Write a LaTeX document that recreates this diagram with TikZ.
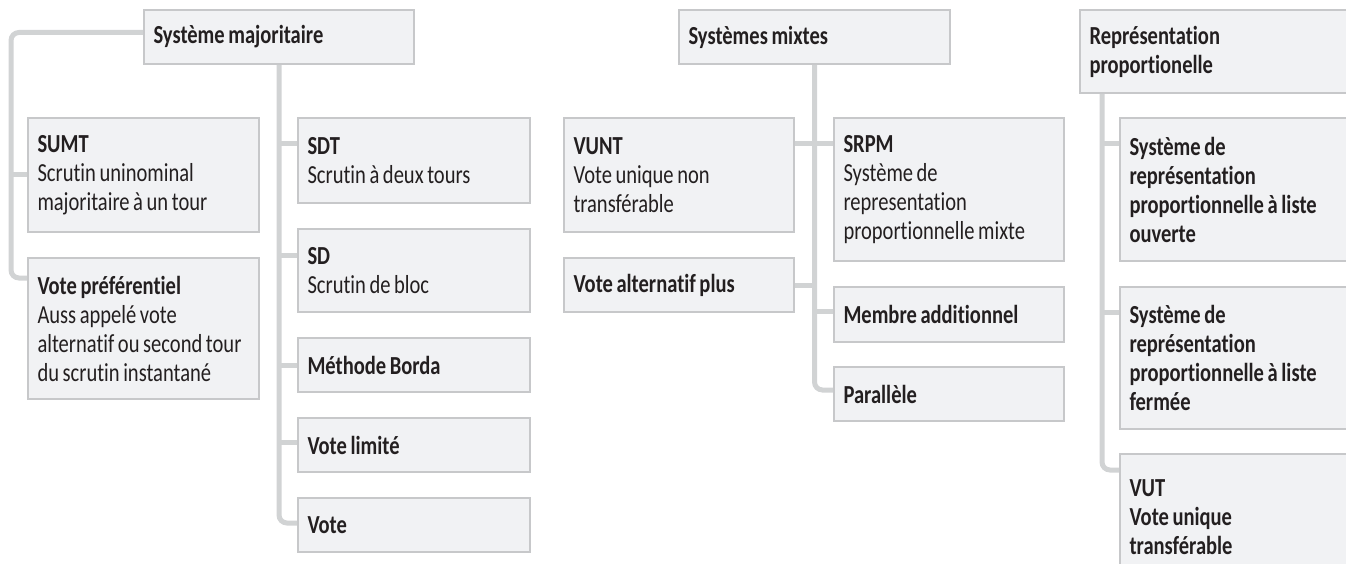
\documentclass[tikz,border=0pt]{standalone}
\usepackage{fontspec}
\setmainfont{Carlito}[FakeStretch=0.79, Ligatures=NoCommon]
\usetikzlibrary{backgrounds}
\definecolor{boxfill}{HTML}{F1F2F4}
\definecolor{boxborder}{HTML}{C7C8CA}
\definecolor{linecol}{HTML}{D1D3D4}
\definecolor{txt}{HTML}{231F20}
\newcommand{\tightspace}{\spaceskip=3.6pt plus 1pt minus 0.5pt\relax}
\tikzset{
  box/.style={draw=boxborder, line width=2pt, fill=boxfill, anchor=north west,
    align=left, inner xsep=9.5pt, inner ysep=0pt, text=txt,
    font=\fontsize{26}{29}\selectfont, execute at begin node=\tightspace},
  trunk/.style={draw=linecol, line width=5pt, rounded corners=8pt},
  branch/.style={draw=linecol, line width=5pt},
}
\begin{document}
\begin{tikzpicture}[x=1pt,y=-1pt]
\useasboundingbox (0,0) rectangle (1346,564);
\clip (0,0) rectangle (1346,564);
% Système majoritaire
\node[box, minimum width=270, minimum height=54, text width=251] (maj) at (143,9) {\textbf{Système majoritaire}};
\node[box, minimum width=231, minimum height=114, text width=212] (sumt) at (27,117) {\textbf{SUMT}\\Scrutin uninominal\\majoritaire à un tour};
\node[box, minimum width=231, minimum height=141, text width=212] (vp) at (27,257) {\textbf{Vote préférentiel}\\Auss appelé vote\\alternatif ou second tour\\du scrutin instantané};
\node[box, minimum width=232, minimum height=85, text width=213] (sdt) at (297,117) {\textbf{SDT}\\Scrutin à deux tours};
\node[box, minimum width=232, minimum height=83, text width=213] (sd) at (297,228) {\textbf{SD}\\Scrutin de bloc};
\node[box, minimum width=232, minimum height=54, text width=213] (borda) at (297,337) {\textbf{Méthode Borda}};
\node[box, minimum width=232, minimum height=54, text width=213] (lim) at (297,417) {\textbf{Vote limité}};
\node[box, minimum width=232, minimum height=54, text width=213] (vote) at (297,497) {\textbf{Vote}};
% Systèmes mixtes
\node[box, minimum width=271, minimum height=54, text width=252] (mix) at (678,9) {\textbf{Systèmes mixtes}};
\node[box, minimum width=230, minimum height=114, text width=211] (vunt) at (563,117) {\textbf{VUNT}\\Vote unique non\\transférable};
\node[box, minimum width=230, minimum height=54, text width=211] (vap) at (563,257) {\textbf{Vote alternatif plus}};
\node[box, minimum width=230, minimum height=143, text width=211] (srpm) at (833,117) {\textbf{SRPM}\\Système de\\representation\\proportionnelle mixte};
\node[box, minimum width=230, minimum height=55, text width=211] (mem) at (833,286) {\textbf{Membre additionnel}};
\node[box, minimum width=230, minimum height=54, text width=211] (par) at (833,366) {\textbf{Parallèle}};
% Représentation proportionnelle
\node[box, minimum width=281, minimum height=83, text width=262] (rp) at (1079,9) {\textbf{Représentation}\\\textbf{proportionelle}};
\node[box, minimum width=241, minimum height=143, text width=222] (ouv) at (1119,117) {\textbf{Système de}\\\textbf{représentation}\\\textbf{proportionnelle à liste}\\\textbf{ouverte}};
\node[box, minimum width=241, minimum height=142, text width=222] (fer) at (1119,286) {\textbf{Système de}\\\textbf{représentation}\\\textbf{proportionnelle à liste}\\\textbf{fermée}};
\node[box, minimum width=241, minimum height=127, text width=222] (vut) at (1119,453) {\textbf{VUT}\\\textbf{Vote unique}\\\textbf{transférable}};
% connector end points
\coordinate (majW) at ([yshift=4.5pt]maj.west);
\coordinate (mL) at (11,278);
\coordinate (voteC) at ([yshift=2pt]vote.west);
\coordinate (sdtC) at ([yshift=-27pt]sdt.north west);
\coordinate (sdC) at ([yshift=-27pt]sd.north west);
\coordinate (limC) at ([yshift=3pt]lim.west);
\coordinate (parC) at ([yshift=4pt]par.west);
\coordinate (vuntC) at ([yshift=-27pt]vunt.north east);
\coordinate (srpmC) at ([yshift=-27pt]srpm.north west);
\coordinate (memC) at ([yshift=3pt]mem.west);
\coordinate (rpT) at ([xshift=23pt]rp.south west);
\coordinate (vutC) at ([yshift=-17pt]vut.north west);
\coordinate (ouvC) at ([yshift=-27pt]ouv.north west);
\coordinate (ferC) at ([yshift=-26pt]fer.north west);
\begin{scope}[on background layer]
  % majoritaire
  \draw[trunk] (majW) -| (mL) -- (mL -| vp.west);
  \draw[branch] (sumt.west) -- (sumt.west -| mL);
  \draw[trunk] (maj.south) |- (voteC);
  \draw[branch] (maj.south |- sdtC) -- (sdtC);
  \draw[branch] (maj.south |- sdC) -- (sdC);
  \draw[branch] (maj.south |- borda.west) -- (borda.west);
  \draw[branch] (maj.south |- limC) -- (limC);
  % mixtes
  \draw[trunk] (mix.south) |- (parC);
  \draw[branch] (vuntC) -- (srpmC);
  \draw[branch] (vap.east) -- (vap.east -| mix.south);
  \draw[branch] (mix.south |- memC) -- (memC);
  % proportionnelle
  \draw[trunk] (rpT) |- (vutC);
  \draw[branch] (rpT |- ouvC) -- (ouvC);
  \draw[branch] (rpT |- ferC) -- (ferC);
\end{scope}
\end{tikzpicture}
\end{document}
